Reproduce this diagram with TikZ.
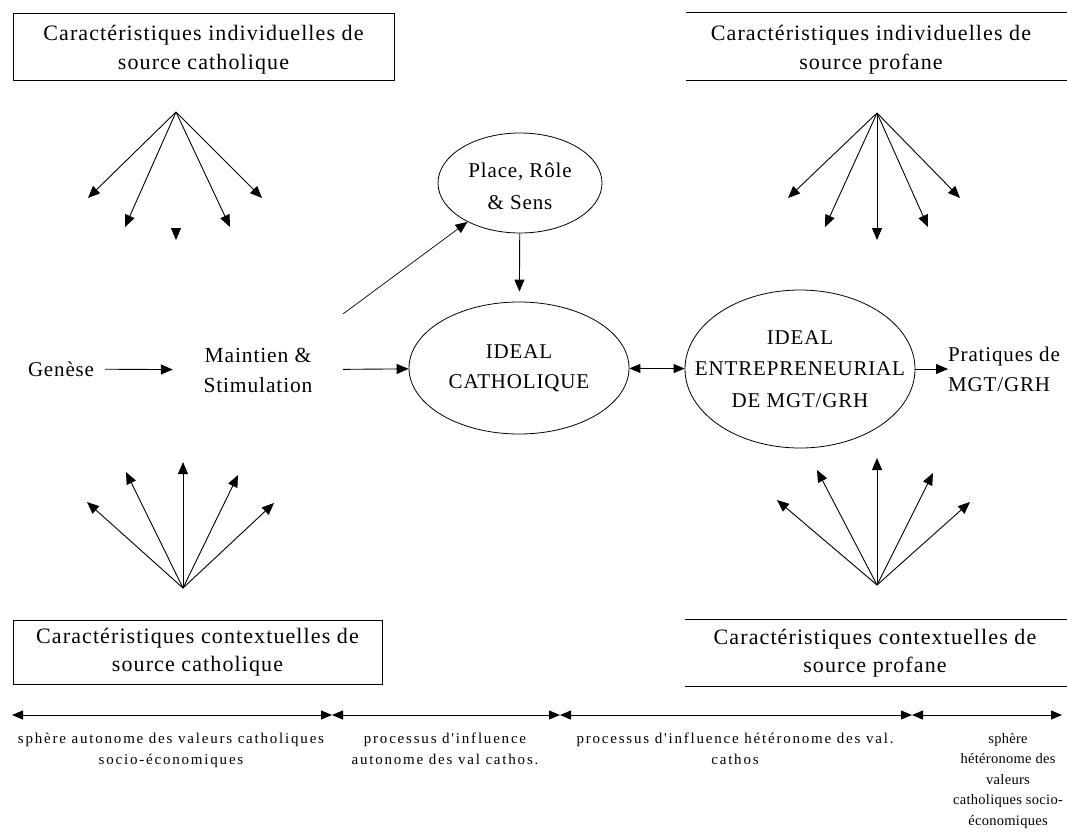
\documentclass[tikz,border=0pt]{standalone}
\usepackage{fontspec}
\setmainfont{Liberation Serif}
\newfontfamily\mainf[LetterSpace=4]{Liberation Serif}
\newfontfamily\boxf[LetterSpace=5]{Liberation Serif}
\newfontfamily\smallf[LetterSpace=12]{Liberation Serif}
\newfontfamily\narrowf[LetterSpace=2]{Liberation Serif}
\usetikzlibrary{arrows.meta,shapes.geometric}
\begin{document}
\begin{tikzpicture}[x=1pt,y=-1pt,
  every node/.style={font=\mainf\fontsize{21}{30}\selectfont, align=center, inner sep=0pt},
  arr/.style={-{Triangle[length=12pt,width=10pt]}, line width=0.9pt},
  dbl/.style={{Triangle[length=11pt,width=9pt]}-{Triangle[length=11pt,width=9pt]}, line width=0.9pt},
  lbox/.style={draw, line width=1pt},
  rule/.style={line width=1pt},
  boxtext/.style={font=\boxf\fontsize{22}{28.5}\selectfont},
  ell/.style={draw, ellipse, line width=0.8pt},
  lab/.style={font=\smallf\fontsize{15}{20.5}\selectfont, anchor=north}
]
\useasboundingbox (0,0) rectangle (1067,838);
\coordinate (R) at (1067,0);

% boxes
\node[lbox, minimum width=381, minimum height=67] (tl) at (203.5,46.5) {};
\node[boxtext] (tlt) at ([yshift=-3pt]tl.center) {Caractéristiques individuelles de\\source catholique};
\node[minimum width=370, minimum height=67] (tr) at (871,46.5) {};
\node[boxtext] (trt) at ([yshift=-3pt]tr.center) {Caractéristiques individuelles de\\source profane};
\draw[rule] (tr.north west) -- (tr.north west -| R);
\draw[rule] (tr.south west) -- (tr.south west -| R);
\node[lbox, minimum width=369, minimum height=64] (bl) at (197.5,652) {};
\node[boxtext] (blt) at (bl.center) {Caractéristiques contextuelles de\\source catholique};
\node[minimum width=380, minimum height=66] (br) at (875,653) {};
\node[boxtext] (brt) at (br.center) {Caractéristiques contextuelles de\\source profane};
\draw[rule] (br.north west) -- (br.north west -| R);
\draw[rule] (br.south west) -- (br.south west -| R);

% fans
\coordinate (tlo) at (176,112);
\foreach \x/\y [count=\i] in {88/198,125/227,230/227,262/198} \coordinate (tl\i) at (\x,\y);
\foreach \i in {1,...,4} \draw[arr] (tlo) -- (tl\i);
\coordinate (tlm0) at (176,228);
\coordinate (tlm) at (176,240);
\draw[arr] (tlm0) -- (tlm);

\coordinate (tro) at (877,113);
\foreach \x/\y [count=\i] in {788/198,825/227,877/240,928/227,960/198} \coordinate (tr\i) at (\x,\y);
\foreach \i in {1,...,5} \draw[arr] (tro) -- (tr\i);

\coordinate (blo) at (183,588);
\foreach \x/\y [count=\i] in {87/502,126/472,183/462,238/475,274/503} \coordinate (bl\i) at (\x,\y);
\foreach \i in {1,...,5} \draw[arr] (blo) -- (bl\i);

\coordinate (bro) at (877,585);
\foreach \x/\y [count=\i] in {777/500,817/470,877/458,933/473,970/502} \coordinate (br\i) at (\x,\y);
\foreach \i in {1,...,5} \draw[arr] (bro) -- (br\i);

% centre
\node[minimum width=88] (gen) at (61,369) {Genèse};
\node[minimum width=170, minimum height=112, font=\mainf\fontsize{21.5}{30}\selectfont] (mt) at (258,370) {Maintien \&\\Stimulation};
\node[ell, minimum width=164, minimum height=100] (pr) at (520,183) {};
\node[font=\mainf\fontsize{21}{32}\selectfont] (prt) at ([yshift=-3pt]pr.center) {Place, Rôle\\\& Sens};
\node[ell, minimum width=220, minimum height=132] (ic) at (519,368) {};
\node (ict) at (ic) {IDEAL\\CATHOLIQUE};
\node[ell, minimum width=230, minimum height=158] (ie) at (800,369) {};
\node[font=\mainf\fontsize{21}{31.5}\selectfont] (iet) at (ie) {IDEAL\\ENTREPRENEURIAL\\DE MGT/GRH};
\node[anchor=west, align=left] (pm) at (948,369) {Pratiques de\\MGT/GRH};

\draw[arr] (gen) -- (mt);
\draw[arr] (mt) -- (ic);
\draw[arr, line width=0.7pt] (mt.north east) -- (pr);
\draw[arr, shorten >=10pt] (pr) -- (ic);
\draw[dbl] (ic) -- (ie);
\draw[arr] (ie) -- (pm);

% bottom scale
\coordinate (b0) at (12,715);
\coordinate (b1) at (332,715);
\coordinate (b2) at (560,715);
\coordinate (b3) at (912,715);
\coordinate (b4) at (1062,715);
\draw[dbl] (b0) -- (b1);
\draw[dbl] (b1) -- (b2);
\draw[dbl] (b2) -- (b3);
\draw[dbl] (b3) -- (b4);

\node[lab] (s1) at (171,733) {sphère autonome des valeurs catholiques\\socio-économiques};
\node[lab] (s2) at (445,733) {processus d'influence\\autonome des val cathos.};
\node[lab] (s3) at (735,733) {processus d'influence hétéronome des val.\\cathos};
\node[lab, font=\narrowf\fontsize{14.5}{20.5}\selectfont] (s4) at (1008,733) {sphère\\hétéronome des\\valeurs\\catholiques socio-\\économiques};
\end{tikzpicture}
\end{document}
